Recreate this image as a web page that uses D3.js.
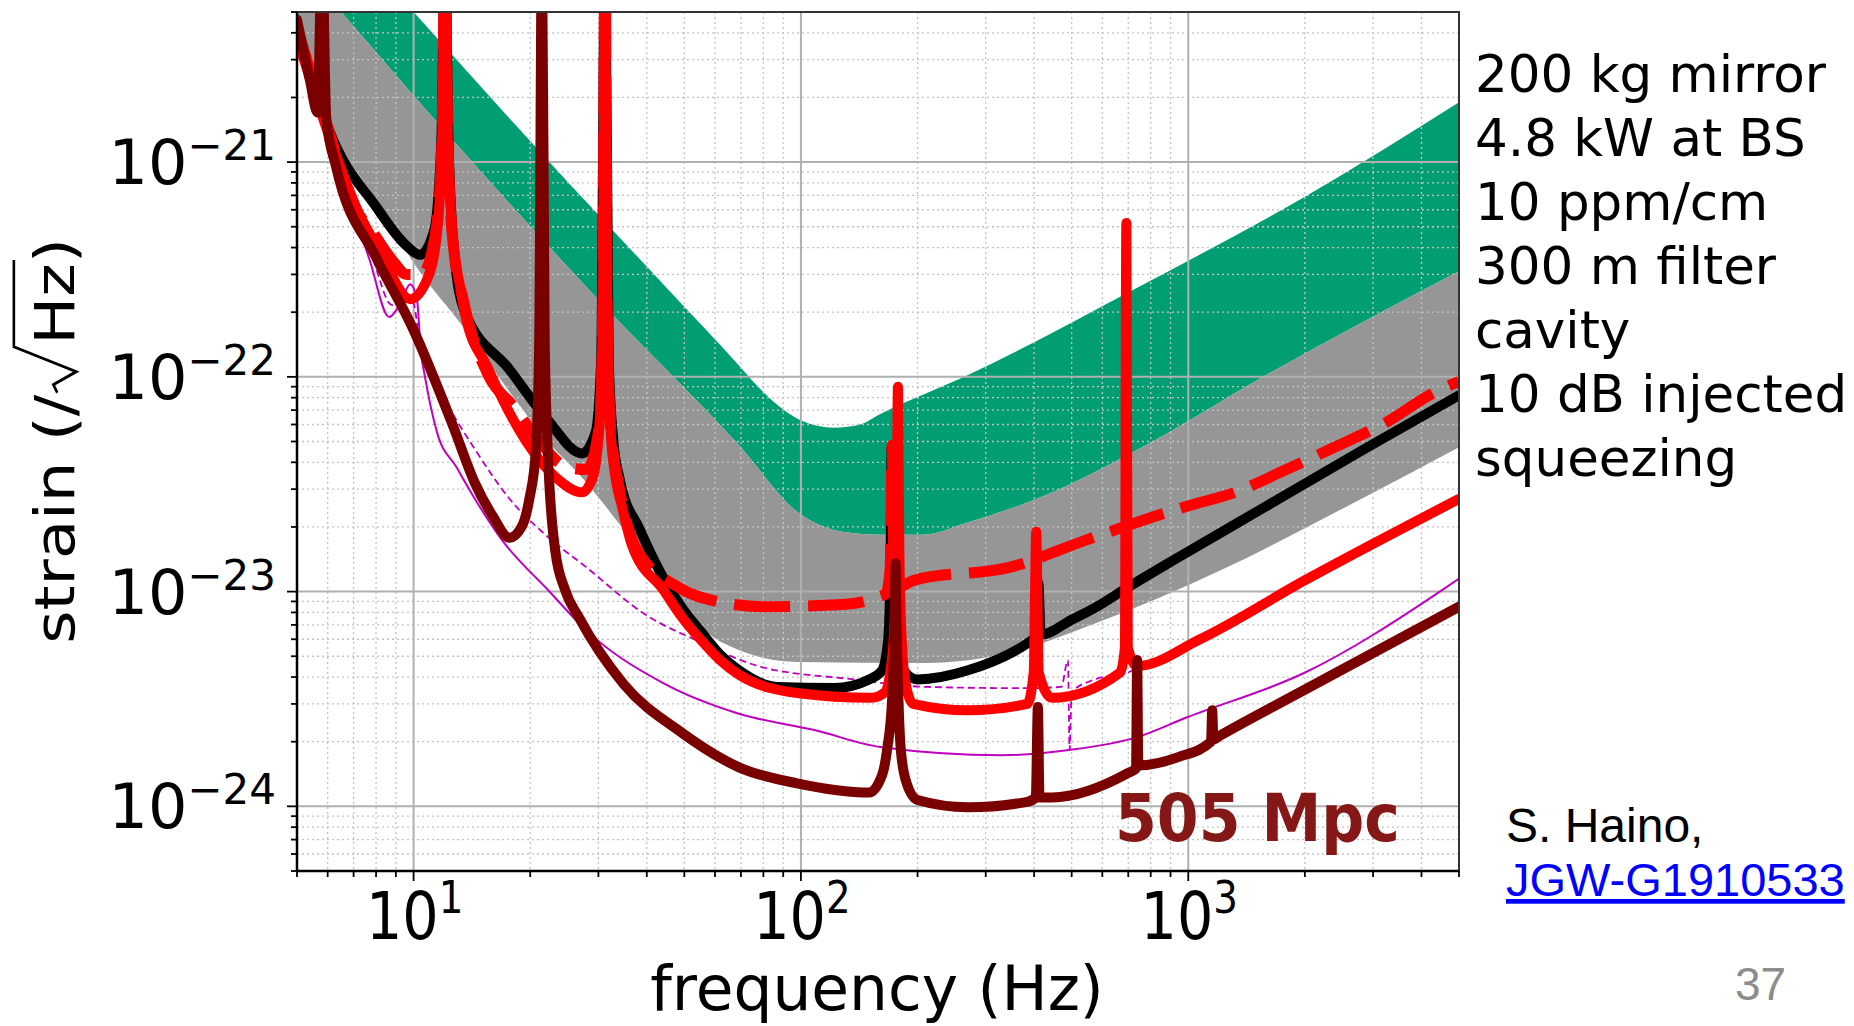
<!DOCTYPE html>
<html>
<head>
<meta charset="utf-8">
<script src="https://cdn.jsdelivr.net/npm/d3@7"></script>
<style>
  body { margin: 0; background: #fff; }
  text { font-family: "DejaVu Sans", sans-serif; }
</style>
</head>
<body>
<svg id="chart" width="1854" height="1026"></svg>
<script>
// ---- data: [frequency Hz, strain /sqrt(Hz)] ----
var freq_major = [10, 100, 1000]
var strain_major = [1e-24, 1e-23, 1e-22, 1e-21]

var green_top = [[5, 2.0e-20], [10, 5.0e-21], [22.2, 1.02e-21], [44.1, 2.7e-22], [69.2, 1.13e-22], [78.4, 8.8e-23], [87, 7.4e-23],
    [99.5, 6.3e-23], [122, 5.8e-23], [142, 6.0e-23], [160, 6.7e-23], [270, 1.02e-22], [738, 2.6e-22], [2000, 6.9e-22], [5000, 1.9e-21]]
var green_bottom = [[5, 8.6e-21], [6.5, 5.0e-21], [12.6, 1.27e-21], [29.9, 2.3e-22], [69.2, 4.8e-23], [99.5, 2.3e-23], [115, 2.0e-23],
    [128, 1.9e-23], [160, 1.84e-23], [205, 1.84e-23], [270, 2.1e-23], [405, 2.7e-23], [793, 4.9e-23], [1561, 1.0e-22], [5000, 3.1e-22]]
var gray_bottom = [[5, 4.35e-21], [6.09, 1.49e-21], [8.0, 6.7e-22], [10, 3.4e-22], [13.5, 1.69e-22], [17.7, 8.5e-23], [22.2, 5.0e-23],
    [27.2, 3.4e-23], [34.9, 1.94e-23], [44.1, 1.11e-23], [58.2, 6.3e-24], [69.2, 5.35e-24], [97.7, 4.7e-24], [210, 4.65e-24],
    [347, 5.2e-24], [574, 7.1e-24], [1216, 1.26e-23], [2573, 2.5e-23], [5000, 4.7e-23]]

var black_curve = [[5, 4.3e-21], [6.09, 1.37e-21], [8.0, 6.2e-22], [9.56, 4.1e-22], [10.4, 3.7e-22], [11.3, 4.8e-22], [11.8, 1.3e-21],
    [12.05, 1e-20], [12.3, 1.3e-21], [12.7, 4.0e-22], [13.5, 2.05e-22], [17.7, 1.08e-22], [22.2, 6.3e-23], [27.2, 4.4e-23],
    [29.5, 5.5e-23], [30.5, 1.2e-22], [31.2, 1e-20], [31.9, 1.2e-22], [32.8, 5.0e-23], [34.1, 3.3e-23], [38.4, 1.94e-23],
    [44.1, 1.16e-23], [49.3, 8.4e-24], [55.2, 6.5e-24], [61.8, 5.1e-24], [69.2, 4.3e-24], [86.7, 3.6e-24], [122, 3.56e-24],
    [150, 3.9e-24], [162, 4.3e-24], [168, 6.0e-24], [170.5, 1.5e-23], [171.5, 4.7e-23], [172.5, 1.5e-23], [176, 6.0e-24],
    [186, 4.2e-24], [200, 3.9e-24], [270, 4.3e-24], [393, 5.9e-24], [403, 6.1e-24], [410, 1.1e-23], [416, 6.3e-24],
    [500, 7.4e-24], [574, 8.4e-24], [700, 1.05e-23], [946, 1.45e-23], [1561, 2.45e-23], [2843, 4.6e-23], [5000, 8.2e-23]]

var red_solid = [[5, 3.8e-21], [6.2, 1.17e-21], [7.1, 6.2e-22], [8.2, 3.8e-22], [9.8, 2.3e-22], [10.8, 2.8e-22], [11.5, 4.7e-22],
    [11.85, 1.3e-21], [12.05, 1e-20], [12.25, 1.3e-21], [12.6, 4.7e-22], [13.2, 2.6e-22], [13.6, 1.94e-22], [15.5, 1.11e-22],
    [19.4, 5.1e-23], [23.3, 3.4e-23], [27.2, 2.9e-23], [29.0, 3.4e-23], [30.2, 6.0e-23], [30.8, 2.0e-22], [31.2, 1e-20],
    [31.6, 2.0e-22], [32.2, 6.0e-23], [33.2, 3.4e-23], [34.5, 2.5e-23], [36.6, 1.65e-23], [44.1, 1.02e-23], [49.3, 7.6e-24],
    [55.2, 5.95e-24], [61.8, 4.8e-24], [69.2, 4.1e-24], [97.7, 3.37e-24], [152, 3.2e-24], [165, 3.4e-24], [170, 4.2e-24],
    [174, 6.5e-24], [176.5, 1.6e-23], [178, 9.0e-23], [179.5, 1.6e-23], [182, 6.0e-24], [186, 3.8e-24], [195, 3.0e-24],
    [270, 2.8e-24], [384, 3.0e-24], [399, 4.2e-24], [405, 1.9e-23], [411, 4.2e-24], [445, 3.2e-24], [667, 4.2e-24],
    [686, 5.5e-24], [692, 5.2e-22], [698, 5.5e-24], [738, 4.5e-24], [1072, 6.0e-24], [2003, 1.13e-23], [5000, 2.7e-23]]

var red_dashed = [[5, 4.2e-21], [6.2, 1.2e-21], [6.8, 6.9e-22], [7.8, 4.8e-22], [8.8, 3.5e-22], [9.6, 3.0e-22], [10.5, 3.0e-22],
    [11.4, 4.7e-22], [11.85, 1.3e-21], [12.05, 1e-20], [12.25, 1.3e-21], [12.6, 4.5e-22], [13.5, 2.2e-22], [15.5, 1.04e-22],
    [18.2, 7.2e-23], [20.3, 5.5e-23], [24.9, 3.8e-23], [28.0, 3.7e-23], [30.2, 6.0e-23], [30.8, 2.0e-22], [31.2, 1e-20],
    [31.6, 2.0e-22], [32.2, 6.0e-23], [34.0, 3.0e-23], [37.5, 1.6e-23], [48.2, 1.05e-23], [55.2, 9.4e-24], [81.3, 8.5e-24],
    [128, 8.7e-24], [160, 9.5e-24], [166, 9.8e-24], [170, 1.3e-23], [172, 4.8e-23], [174, 1.3e-23], [178, 1.05e-23],
    [196, 1.13e-23], [347, 1.3e-23], [551, 1.75e-23], [993, 2.5e-23], [1321, 2.9e-23], [1791, 3.7e-23], [2384, 4.7e-23],
    [3224, 6.1e-23], [4339, 8.5e-23], [5000, 9.5e-23]]

var maroon_curve = [[5, 4.6e-21], [5.4, 2.4e-21], [5.65, 1.7e-21], [5.8, 1e-20], [5.95, 1.6e-21], [6.3, 9.6e-22], [8.0, 3.6e-22],
    [10, 1.65e-22], [12.6, 6.0e-23], [14.4, 3.2e-23], [16.0, 2.25e-23], [17.7, 1.78e-23], [19.0, 2.0e-23], [19.9, 2.7e-23],
    [20.7, 4.6e-23], [21.1, 1.5e-22], [21.45, 1e-20], [21.8, 1.5e-22], [22.2, 4.6e-23], [23.2, 1.56e-23], [24.6, 1.02e-23],
    [26.7, 7.6e-24], [34.9, 3.7e-24], [49.3, 2.2e-24], [69.2, 1.52e-24], [97.7, 1.28e-24], [150, 1.16e-24], [162, 1.4e-24],
    [167, 1.85e-24], [172, 3.2e-24], [174.5, 7.0e-24], [175.5, 1.35e-23], [176.5, 7.0e-24], [178.5, 3.2e-24], [181, 1.85e-24],
    [187, 1.3e-24], [200, 1.07e-24], [270, 9.9e-25], [384, 1.05e-24], [404, 1.1e-24], [409, 2.9e-24], [413, 1.1e-24],
    [445, 1.1e-24], [700, 1.43e-24], [733, 1.5e-24], [738, 4.8e-24], [743, 1.55e-24], [946, 1.7e-24], [1145, 2.0e-24],
    [1153, 2.8e-24], [1161, 2.05e-24], [1216, 2.15e-24], [2003, 3.5e-24], [5000, 8.5e-24]]

var magenta_solid = [[6.64, 7.8e-22], [7.7, 3.5e-22], [8.65, 1.9e-22], [9.2, 2.16e-22], [9.8, 2.7e-22], [10.2, 2.3e-22],
    [10.45, 1.3e-22], [10.7, 1.0e-22], [11.5, 5.5e-23], [12.9, 3.8e-23], [14.4, 2.7e-23], [16.9, 1.74e-23], [22.2, 1.02e-23],
    [27.9, 6.6e-24], [44.1, 3.75e-24], [69.2, 2.7e-24], [109, 2.26e-24], [160, 1.89e-24], [330, 1.73e-24], [492, 1.83e-24],
    [738, 2.1e-24], [993, 2.6e-24], [2003, 4.2e-24], [4571, 1.03e-23], [5000, 1.15e-23]]

var magenta_dashed = [[6.8, 7.7e-22], [7.8, 3.7e-22], [8.8, 2.16e-22], [9.5, 2.4e-22], [10.0, 2.2e-22], [10.3, 1.6e-22],
    [12.1, 7.8e-23], [14.4, 4.6e-23], [17.7, 2.7e-23], [22.2, 1.8e-23], [27.9, 1.3e-23], [39.3, 7.9e-24], [55.2, 5.8e-24],
    [77.5, 4.5e-24], [137, 3.9e-24], [210, 3.6e-24], [384, 3.55e-24], [470, 3.6e-24], [489, 4.8e-24], [494, 1.83e-24],
    [500, 3.4e-24], [574, 3.9e-24], [700, 4.2e-24], [760, 4.6e-24]]

var notes = ["200 kg mirror", "4.8 kW at BS", "10 ppm/cm", "300 m filter", "cavity", "10 dB injected", "squeezing"]
var range_label = "505 Mpc"

// ---- setup ----
var svg = d3.select("#chart")
var plot = { left: 297, right: 1459, top: 12, bottom: 871 }
var xScale = d3.scaleLog().domain([5, 5000]).range([plot.left, plot.right])
var yScale = d3.scaleLog().domain([5e-25, 5e-21]).range([plot.bottom, plot.top])
var isMajor = v => Math.abs(Math.log10(v) - Math.round(Math.log10(v))) < 1e-6

svg.append("rect").attr("width", 1854).attr("height", 1026).attr("fill", "#fff")
svg.append("defs").append("clipPath").attr("id", "clip").append("rect")
    .attr("x", plot.left).attr("y", plot.top).attr("width", plot.right - plot.left).attr("height", plot.bottom - plot.top)

var line = d3.line().x(d => xScale(d[0])).y(d => yScale(d[1])).curve(d3.curveMonotoneX)
function band(upper, lower) {
    return line(upper) + "L" + line(lower.slice().reverse()).slice(1) + "Z"
}

var area = svg.append("g").attr("clip-path", "url(#clip)")
area.append("path").attr("d", band(green_top, green_bottom)).attr("fill", "#029e73")
area.append("path").attr("d", band(green_bottom, gray_bottom)).attr("fill", "#969696")

// grid
var grid = svg.append("g").attr("clip-path", "url(#clip)")
var xt = xScale.ticks(), yt = yScale.ticks()
grid.selectAll(".xminor").data(xt.filter(v => !isMajor(v))).join("line").attr("class", "xminor")
    .attr("x1", d => xScale(d)).attr("x2", d => xScale(d)).attr("y1", plot.top).attr("y2", plot.bottom)
    .attr("stroke", "#c4c4c4").attr("stroke-width", 1.3).attr("stroke-dasharray", "2,3")
grid.selectAll(".yminor").data(yt.filter(v => !isMajor(v))).join("line").attr("class", "yminor")
    .attr("y1", d => yScale(d)).attr("y2", d => yScale(d)).attr("x1", plot.left).attr("x2", plot.right)
    .attr("stroke", "#c4c4c4").attr("stroke-width", 1.3).attr("stroke-dasharray", "2,3")
grid.selectAll(".xmajor").data(freq_major).join("line").attr("class", "xmajor")
    .attr("x1", d => xScale(d)).attr("x2", d => xScale(d)).attr("y1", plot.top).attr("y2", plot.bottom)
    .attr("stroke", "#b0b0b0").attr("stroke-width", 2)
grid.selectAll(".ymajor").data(strain_major).join("line").attr("class", "ymajor")
    .attr("y1", d => yScale(d)).attr("y2", d => yScale(d)).attr("x1", plot.left).attr("x2", plot.right)
    .attr("stroke", "#b0b0b0").attr("stroke-width", 2)

// curves
var curves = svg.append("g").attr("clip-path", "url(#clip)")
    .attr("fill", "none").attr("stroke-linejoin", "round")
curves.append("path").attr("d", line(magenta_dashed)).attr("stroke", "#bf00bf").attr("stroke-width", 1.8).attr("stroke-dasharray", "7,4")
curves.append("path").attr("d", line(magenta_solid)).attr("stroke", "#bf00bf").attr("stroke-width", 2)
curves.append("path").attr("d", line(black_curve)).attr("stroke", "#000").attr("stroke-width", 10).attr("stroke-linecap", "round")
curves.append("path").attr("d", line(red_dashed)).attr("stroke", "#ff0000").attr("stroke-width", 11).attr("stroke-dasharray", "56,18")
curves.append("path").attr("d", line(red_solid)).attr("stroke", "#ff0000").attr("stroke-width", 10).attr("stroke-linecap", "round")
curves.append("path").attr("d", line(maroon_curve)).attr("stroke", "#7a0000").attr("stroke-width", 10).attr("stroke-linecap", "round")

// frame and ticks
svg.append("rect").attr("x", plot.left).attr("y", plot.top).attr("width", plot.right - plot.left).attr("height", plot.bottom - plot.top)
    .attr("fill", "none").attr("stroke", "#333").attr("stroke-width", 2)
svg.append("line").attr("x1", plot.left).attr("x2", plot.left).attr("y1", plot.top).attr("y2", plot.bottom + 1).attr("stroke", "#000").attr("stroke-width", 2.5)
svg.append("line").attr("x1", plot.left - 1).attr("x2", plot.right).attr("y1", plot.bottom).attr("y2", plot.bottom).attr("stroke", "#000").attr("stroke-width", 2.5)
svg.selectAll(".ytick").data(yt).join("line").attr("class", "ytick")
    .attr("x1", plot.left).attr("x2", d => plot.left - (isMajor(d) ? 10 : 6))
    .attr("y1", d => yScale(d)).attr("y2", d => yScale(d)).attr("stroke", "#000").attr("stroke-width", 1.8)
svg.selectAll(".xtick").data(xt).join("line").attr("class", "xtick")
    .attr("y1", plot.bottom).attr("y2", d => plot.bottom + (isMajor(d) ? 10 : 6))
    .attr("x1", d => xScale(d)).attr("x2", d => xScale(d)).attr("stroke", "#000").attr("stroke-width", 1.8)

// tick labels
svg.selectAll(".ylab").data(strain_major).join("text").attr("class", "ylab")
    .attr("x", 276).attr("y", d => yScale(d) + 22).attr("text-anchor", "end").attr("fill", "#000")
    .each(function (d) {
        var t = d3.select(this)
        t.append("tspan").attr("font-size", 62).text("10")
        t.append("tspan").attr("font-size", 42).attr("dy", -24).text("\u2212" + Math.abs(Math.round(Math.log10(d))))
    })
svg.selectAll(".xlab").data(freq_major).join("text").attr("class", "xlab")
    .attr("transform", d => "translate(" + (xScale(d) + 1) + ",939) scale(0.88,1)").attr("text-anchor", "middle")
    .each(function (d) {
        var t = d3.select(this)
        t.append("tspan").attr("font-size", 65).text("10")
        t.append("tspan").attr("font-size", 44).attr("dy", -26).text(Math.round(Math.log10(d)))
    })

// axis titles
svg.append("text").attr("transform", "translate(877,1010) scale(0.99,1)").attr("text-anchor", "middle")
    .attr("font-size", 62).text("frequency (Hz)")

var yl = svg.append("g").attr("transform", "translate(74,441) rotate(-90) scale(1,0.87)")
var F = 64
var t1 = yl.append("text").attr("font-size", F).text("strain (/")
var t2 = yl.append("text").attr("font-size", F).text("Hz)")
var w1 = t1.node().getComputedTextLength(), w2 = t2.node().getComputedTextLength(), rw = 0.78 * F
var x0 = -(w1 + rw + w2) / 2
t1.attr("x", x0)
t2.attr("x", x0 + w1 + rw)
var hzEnd = x0 + w1 + rw + t2.node().getSubStringLength(0, 2) + 3
yl.append("path").attr("fill", "none").attr("stroke", "#000").attr("stroke-width", 3).attr("stroke-linejoin", "miter")
    .attr("d", "M" + (x0 + w1 + 2) + "," + (-0.3 * F) + "L" + (x0 + w1 + 10) + "," + (-0.37 * F) +
        "L" + (x0 + w1 + 0.36 * F) + "," + (0.04 * F) + "L" + (x0 + w1 + rw - 2) + "," + (-1.08 * F) + "L" + hzEnd + "," + (-1.08 * F))

// annotations
svg.append("text").attr("x", 1115).attr("y", 841).attr("font-size", 66).attr("font-weight", "bold")
    .attr("textLength", 285).attr("lengthAdjust", "spacingAndGlyphs").attr("fill", "#851717").text(range_label)
svg.selectAll(".note").data(notes).join("text").attr("class", "note")
    .attr("x", 1475).attr("y", (d, i) => 92 + i * 64).attr("font-size", 51.5).attr("fill", "#000").text(d => d)
svg.append("text").attr("x", 1506).attr("y", 842).attr("font-size", 48).style("font-family", "'Liberation Sans', Arial, sans-serif").text("S. Haino,")
svg.append("text").attr("x", 1506).attr("y", 896).attr("font-size", 47).style("font-family", "'Liberation Sans', Arial, sans-serif")
    .attr("fill", "#0000ff").attr("text-decoration", "underline").text("JGW-G1910533")
svg.append("text").attr("x", 1735).attr("y", 1000).attr("font-size", 46).style("font-family", "'Liberation Sans', Arial, sans-serif")
    .attr("fill", "#8c8c8c").text("37")
</script>
</body>
</html>
